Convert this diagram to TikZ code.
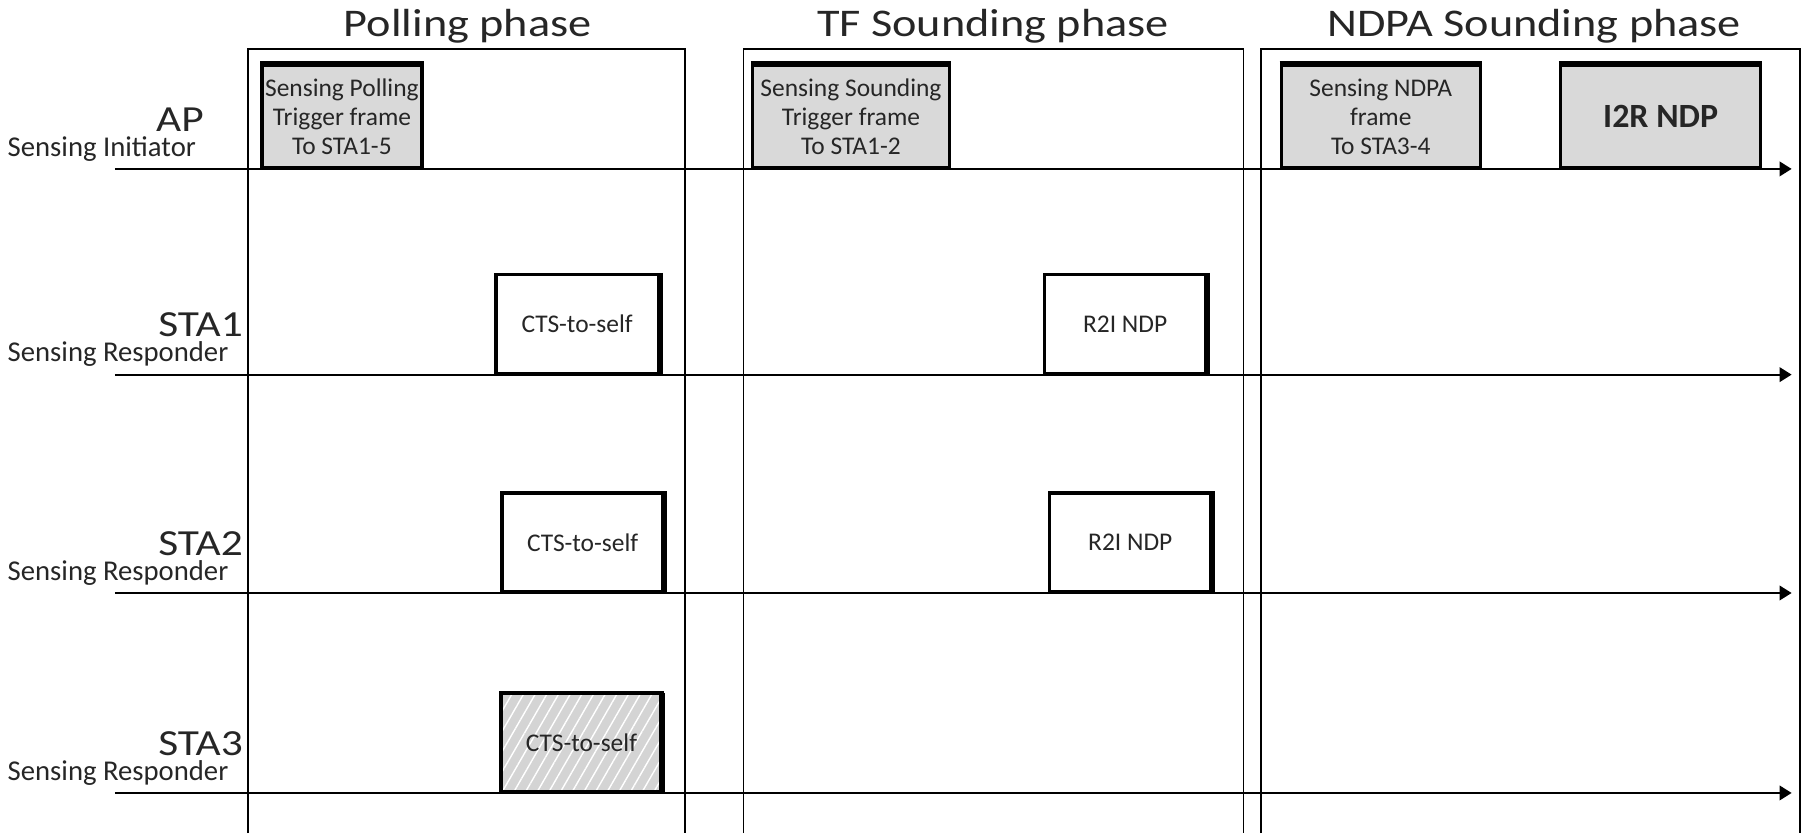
\documentclass[tikz,border=0pt]{standalone}
\usepackage{fontspec}
\setmainfont{Carlito}
\newfontfamily\bigfont{Carlito}[FakeStretch=1.18]
\usetikzlibrary{patterns.meta,arrows.meta}
\definecolor{boxgray}{HTML}{D9D9D9}
\definecolor{hatchgray}{HTML}{D4D4D4}
\definecolor{txt}{HTML}{262626}
\begin{document}
\begin{tikzpicture}[x=0.01cm,y=-0.01cm,
  panel/.style={line width=0.4pt},
  axis/.style={line width=0.55pt,-{Triangle[length=3pt,width=3.6pt]}},
  frame/.style={draw, line width=0.85pt, inner sep=0pt, align=center,
    minimum height=0.89cm, font=\fontsize{6.3}{7.1}\selectfont, text=txt},
  gframe/.style={frame, fill=boxgray},
  wframe/.style={frame, fill=white, minimum height=0.86cm},
  hframe/.style={wframe, outer sep=0pt, fill=hatchgray,
    postaction={pattern color=white, pattern={Lines[angle=60,distance=2.5pt,line width=0.35pt]}}},
  toprule/.style={line width=1.6pt},
  rightrule/.style={line width=1.25pt},
  border/.style={line width=0.85pt},
  title/.style={anchor=base, inner sep=0pt, text=txt, font=\bigfont\fontsize{9.7}{11}\selectfont},
  biglab/.style={anchor=base east, inner sep=0pt, text=txt, font=\bigfont\fontsize{9.1}{10}\selectfont},
  smalllab/.style={anchor=base west, inner sep=0pt, text=txt, font=\fontsize{7.1}{8}\selectfont},
]
\useasboundingbox (0,0) rectangle (1568,725);

% titles
\node[title] (t1) at (407,32) {Polling phase};
\node[title] (t2) at (864,32) {TF Sounding phase};
\node[title] (t3) at (1335,32) {NDPA Sounding phase};

% phase panels
\draw[panel] (216,725) |- (596,42.6) -- (596,725);
\draw[panel] (647,725) |- (1082,42.6) -- (1082,725);
\draw[panel] (1097.5,725) |- (1566.5,42.6) -- (1566.5,725);

% time axes
\coordinate (apS) at (100,147);  \coordinate (apE) at (1559,147);
\coordinate (s1S) at (100,326);  \coordinate (s1E) at (1559,326);
\coordinate (s2S) at (100,516);  \coordinate (s2E) at (1559,516);
\coordinate (s3S) at (100,690);  \coordinate (s3E) at (1559,690);
\draw[axis] (apS) -- (apE);
\draw[axis] (s1S) -- (s1E);
\draw[axis] (s2S) -- (s2E);
\draw[axis] (s3S) -- (s3E);

% station labels
\node[biglab] (lap) at (178,114) {AP};
\node[smalllab] (lapr) at (6,136) {Sensing Initiator};
\node[biglab] (ls1) at (212,293) {STA1};
\node[smalllab] (ls1r) at (6,315) {Sensing Responder};
\node[biglab] (ls2) at (212,483) {STA2};
\node[smalllab] (ls2r) at (6,505) {Sensing Responder};
\node[biglab] (ls3) at (212,657) {STA3};
\node[smalllab] (ls3r) at (6,679) {Sensing Responder};

% AP frames
\node[gframe, minimum width=1.39cm] (poll) at (297.5,101.5) {Sensing Polling\\Trigger frame\\To STA1-5};
\node[gframe, minimum width=1.71cm] (tfs) at (740.5,101.5) {Sensing Sounding\\Trigger frame\\To STA1-2};
\node[gframe, minimum width=1.73cm] (ndpa) at (1201.5,101.5) {Sensing NDPA\\frame\\To STA3-4};
\node[gframe, minimum width=1.74cm, font=\bfseries\fontsize{8.4}{10}\selectfont] (i2r) at (1445,101.5) {I2R NDP};
\foreach \b in {poll,tfs,ndpa,i2r}
  \draw[toprule] (\b.north west) -- (\b.north east);

% STA frames
\node[wframe, minimum width=1.415cm] (cts1) at (502.25,282) {CTS-to-self};
\node[wframe, minimum width=1.40cm] (r2i1) at (979,282) {R2I NDP};
\node[wframe, minimum width=1.40cm] (cts2) at (507,472) {CTS-to-self};
\node[wframe, minimum width=1.40cm] (r2i2) at (983.5,472) {R2I NDP};
\node[hframe, minimum width=1.40cm] (cts3) at (506,646) {CTS-to-self};
\draw[border] (cts3.north west) rectangle (cts3.south east);
\foreach \b in {cts1,r2i1,cts2,r2i2,cts3}
  \draw[rightrule] (\b.north east) -- (\b.south east);
\end{tikzpicture}
\end{document}
